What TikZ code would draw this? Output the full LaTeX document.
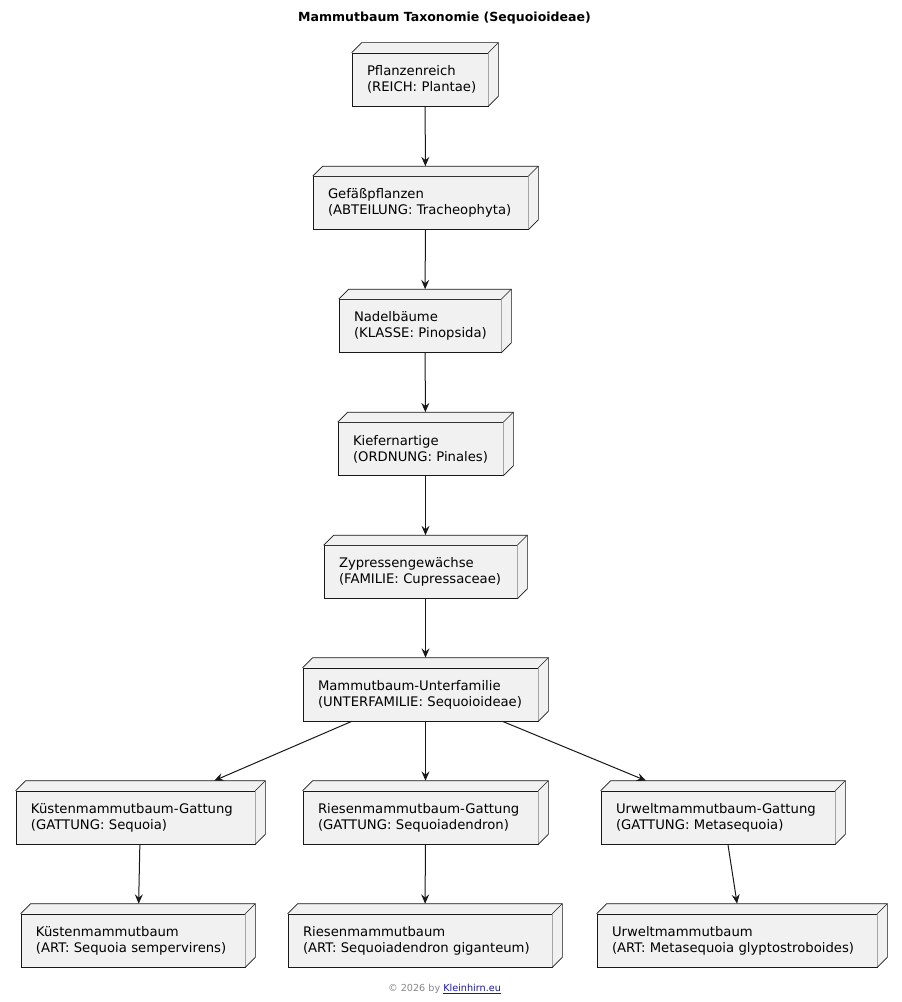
\documentclass[tikz,border=0pt]{standalone}
\usepackage{fontspec}
\setmainfont{DejaVu Sans}
\usetikzlibrary{arrows.meta,fit}
\definecolor{boxfill}{HTML}{F1F1F1}
\definecolor{edgecol}{HTML}{181818}
\definecolor{footcol}{HTML}{888888}
\definecolor{linkcol}{HTML}{1A1A99}
\tikzset{
  front/.style={draw=edgecol, fill=boxfill, line width=0.5pt, inner xsep=11.25pt, inner ysep=0pt,
    minimum height=39.75pt, align=left, font=\fontsize{9.9}{12}\selectfont, anchor=center},
  faceline/.style={draw=edgecol, line width=0.5pt, line join=round},
  bbox/.style={inner sep=0pt, outer sep=0pt, draw=none},
  arr/.style={draw=edgecol, line width=0.75pt, -{Stealth[length=7pt,width=6pt,inset=2.5pt]}},
}
% name, centre x, centre y, width (px), line 1, line 2
\newcommand\mkbox[6]{%
  \node[front, text width=#4*0.75pt-22.5pt] (#1f) at (#2,#3) {\mbox{#5}\\\mbox{#6}};
  \fill[boxfill] (#1f.north west) -- ++(10,-10) -- ([shift={(10,-10)}]#1f.north east)
     -- ([shift={(10,-10)}]#1f.south east) -- (#1f.south east) -- (#1f.north east) -- cycle;
  \draw[faceline] (#1f.north west) -- ++(10,-10) -- ([shift={(10,-10)}]#1f.north east)
     -- ([shift={(10,-10)}]#1f.south east) -- (#1f.south east);
  \draw[faceline] (#1f.north east) -- ([shift={(10,-10)}]#1f.north east);
  \node[bbox, fit={(#1f.south west) ([shift={(10,-10)}]#1f.north east)}] (#1) {};
}
\begin{document}
\begin{tikzpicture}[x=0.75pt,y=-0.75pt]
\fill[white] (0,0) rectangle (902,1002);
\useasboundingbox (0,0) rectangle (902,1002);

\node[font=\bfseries\fontsize{9.4}{11}\selectfont] (title) at (444.5,18) {Mammutbaum Taxonomie (Sequoioideae)};

\mkbox{n1}{420}{79.5}{136}{Pflanzenreich}{(REICH: Plantae)}
\mkbox{n2}{420.5}{203}{215}{Gefäßpflanzen}{(ABTEILUNG: Tracheophyta)}
\mkbox{n3}{420}{326}{162}{Nadelbäume}{(KLASSE: Pinopsida)}
\mkbox{n4}{420.5}{449}{165}{Kiefernartige}{(ORDNUNG: Pinales)}
\mkbox{n5}{420.5}{572}{193}{Zypressengewächse}{(FAMILIE: Cupressaceae)}
\mkbox{n6}{420.5}{694.5}{235}{Mammutbaum-Unterfamilie}{(UNTERFAMILIE: Sequoioideae)}
\mkbox{n7}{135.5}{817.5}{239}{Küstenmammutbaum-Gattung}{(GATTUNG: Sequoia)}
\mkbox{n8}{420.5}{817.5}{235}{Riesenmammutbaum-Gattung}{(GATTUNG: Sequoiadendron)}
\mkbox{n9}{718}{817.5}{234}{Urweltmammutbaum-Gattung}{(GATTUNG: Metasequoia)}
\mkbox{n10}{133}{940.5}{224}{Küstenmammutbaum}{(ART: Sequoia sempervirens)}
\mkbox{n11}{420}{940.5}{264}{Riesenmammutbaum}{(ART: Sequoiadendron giganteum)}
\mkbox{n12}{737}{940.5}{280}{Urweltmammutbaum}{(ART: Metasequoia glyptostroboides)}

\draw[arr] (n1) -- (n2);
\draw[arr] (n2) -- (n3);
\draw[arr] (n3) -- (n4);
\draw[arr] (n4) -- (n5);
\draw[arr] (n5) -- (n6);
\draw[arr] (n6) -- (n7);
\draw[arr] (n6) -- (n8);
\draw[arr] (n6) -- (n9);
\draw[arr] (n7) -- (n10);
\draw[arr] (n8) -- (n11);
\draw[arr] (n9) -- (n12);

\node[font=\fontsize{7.24}{9}\selectfont, text=footcol] (foot) at (444.5,989) {© 2026 by \textcolor{linkcol}{\underline{Kleinhirn.eu}}};
\end{tikzpicture}
\end{document}
